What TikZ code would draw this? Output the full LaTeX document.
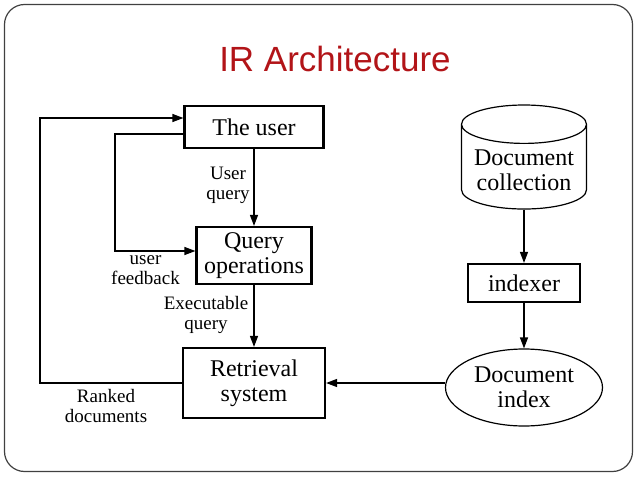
\documentclass[tikz,border=0pt]{standalone}
\usepackage{fontspec}
\setmainfont{Liberation Serif}
\newfontfamily\titlefont{Liberation Sans}
\usetikzlibrary{arrows.meta,shapes.geometric}
\definecolor{titlered}{RGB}{178,20,24}
\tikzset{
  box/.style={draw, line width=2.2pt, align=center, inner sep=2pt,
    font=\fontsize{24}{25}\selectfont},
  lbl/.style={align=center, font=\fontsize{19}{20}\selectfont},
  flow/.style={-{Triangle[length=11pt,width=8pt]}, line width=1.3pt},
}
\begin{document}
\begin{tikzpicture}[x=1pt, y=-1pt]
  % 枠
  \useasboundingbox (0,0) rectangle (638,479);
  \draw[rounded corners=20pt, line width=1.2pt, black!75] (4.5,4.5) rectangle (632.5,471.5);

  % タイトル
  \node[anchor=base, text=titlered, font=\titlefont\fontsize{35}{36}\selectfont] (title) at (335,71.7) {IR Architecture};

  % 左側
  \node[box, minimum width=139pt, minimum height=42pt] (user) at (254,127) {The user};
  \node[box, minimum width=115pt, minimum height=57pt] (qops) at (254,255.5) {Query\\operations};
  \node[box, minimum width=142pt, minimum height=70pt] (retrieval) at (254,383) {Retrieval\\system};

  % 右側
  \node[cylinder, draw, line width=1.2pt, shape border rotate=90, aspect=0.36,
        minimum width=125pt, minimum height=104pt, align=center,
        font=\fontsize{24}{25}\selectfont] (coll) at (524,170) {Document\\collection};
  \node[box, minimum width=112pt, minimum height=38pt] (indexer) at (524,283) {indexer};
  \node[ellipse, draw, line width=1.2pt, minimum width=157pt, minimum height=77pt, inner sep=0pt,
        align=center, font=\fontsize{24}{25}\selectfont] (dindex) at (524,387.5) {Document\\index};

  % 矢印
  \coordinate (outerx) at (40,0);
  \coordinate (innerx) at (115,0);
  \coordinate (fbstart) at ([yshift=-7pt]user.west);
  \coordinate (fbend) at ([yshift=4.5pt]qops.west);
  \coordinate (rkend) at ([yshift=9pt]user.west);

  \draw[flow] (user) -- (qops);
  \draw[flow] (qops) -- (retrieval);
  \draw[flow] (fbstart) -- (fbstart -| innerx) |- (fbend);
  \draw[flow] (retrieval.west) -- (retrieval.west -| outerx) |- (rkend);
  \draw[flow] (coll) -- (indexer);
  \draw[flow] (indexer) -- (dindex);
  \draw[flow] (dindex.west |- retrieval.east) -- (retrieval.east);

  % ラベル
  \node[lbl] (uq) at (228,185) {User\\query};
  \node[lbl] (fb) at (145.5,270) {user\\feedback};
  \node[lbl] (eq) at (206,314.5) {Executable\\query};
  \node[lbl] (rk) at (106,406) {Ranked\\documents};
\end{tikzpicture}
\end{document}
